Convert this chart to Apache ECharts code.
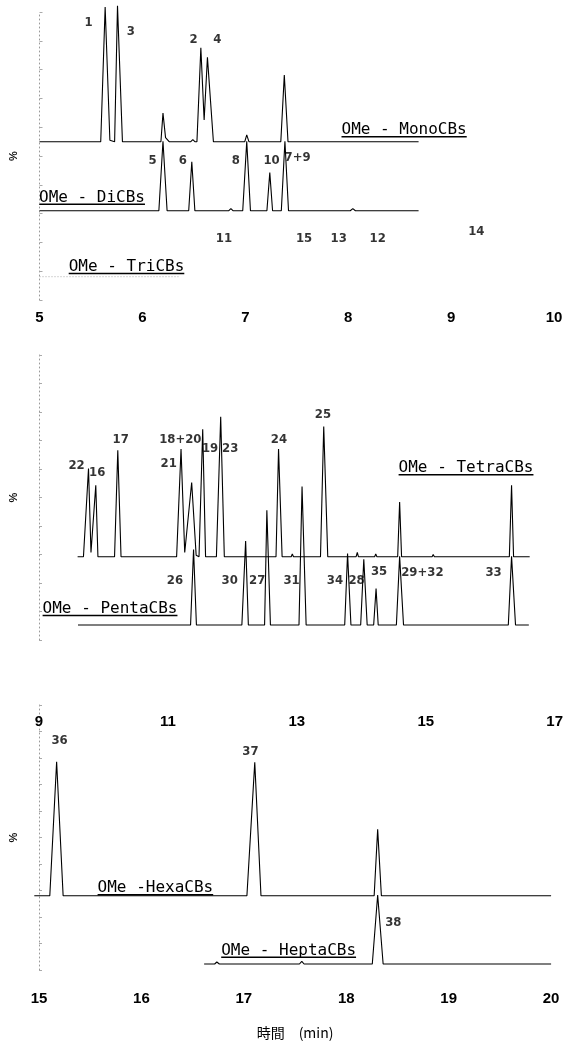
<!DOCTYPE html>
<html><head><meta charset="utf-8">
<script src="https://cdn.jsdelivr.net/npm/echarts@6/dist/echarts.min.js"></script>
<style>html,body{margin:0;padding:0;background:#fff}#c{width:566px;height:1043px}</style>
</head><body><div id="c"></div>
<script>
// ================= DATA (time in min, signal in %) =================
// Panel 1 : 5 - 10 min
const panel1Range = [5, 10];
const panel1Interval = 1;
const monoTrace = [[5.00,0],[5.595,0],[5.638,99],[5.684,1],[5.73,0],[5.758,100],[5.806,0],
  [6.18,0],[6.20,21],[6.225,3],[6.26,0],[6.47,0],[6.49,1.5],[6.51,0],
  [6.53,0],[6.568,69],[6.60,16],[6.632,62],[6.69,0],[6.995,0],[7.014,5],[7.035,0],
  [7.345,0],[7.379,49],[7.415,0],[8.684,0]];
const diTrace = [[5.00,0],[6.16,0],[6.20,51],[6.24,0],[6.45,0],[6.48,36],[6.51,0],
  [6.84,0],[6.86,1.5],[6.88,0],[6.975,0],[7.014,51],[7.05,0],[7.21,0],[7.238,28],[7.265,0],
  [7.35,0],[7.385,51],[7.42,0],[8.02,0],[8.045,1.5],[8.07,0],[8.684,0]];
const triTrace = [[5.00,0],[6.35,0]];
const monoLabels = [['1',5.477,87.5],['3',5.887,80.9],['2',6.498,75],['4',6.729,75]];
const diLabels = [['5',6.098,36.9],['6',6.393,36.9],['8',6.908,36.9],['10',7.255,36.9],['7+9',7.508,38.7]];
const triLabels = [['11',6.793,27.9],['15',7.571,27.9],['13',7.908,27.9],['12',8.287,27.9],['14',9.245,33.1]];

// Panel 2 : 9 - 17 min
const panel2Range = [9, 17];
const panel2Interval = 2;
const tetraTrace = [[9.65,0],[9.74,0],[9.818,63],[9.856,3],[9.93,51],[9.963,0],
  [10.219,0],[10.269,76],[10.319,0],[11.175,0],[11.243,77],[11.30,3],[11.407,53],[11.476,1],
  [11.52,0],[11.577,91],[11.621,0],[11.788,0],[11.854,100],[11.91,0],
  [12.706,0],[12.745,77],[12.80,0],[12.94,0],[12.957,2],[12.975,0],
  [13.391,0],[13.441,93],[13.503,0],[13.94,0],[13.958,3],[13.975,0],
  [14.225,0],[14.242,2],[14.26,0],[14.58,0],[14.61,39],[14.64,0],
  [15.11,0],[15.127,1.5],[15.145,0],[16.30,0],[16.334,51],[16.365,0],[16.613,0]];
const pentaTrace = [[9.656,0],[11.39,0],[11.436,54],[11.48,0],[12.18,0],[12.238,60],[12.28,0],
  [12.53,0],[12.565,82],[12.62,0],[13.06,0],[13.107,99],[13.17,0],
  [13.764,0],[13.808,51],[13.86,0],[14.01,0],[14.058,47],[14.11,0],
  [14.21,0],[14.247,26],[14.28,0],[14.56,0],[14.61,49],[14.67,0],
  [16.284,0],[16.334,49],[16.395,0],[16.60,0]];
const tetraLabels = [['22',9.634,65.3],['16',9.952,59.9],['17',10.314,83.7],['18+20',11.232,83.7],
  ['21',11.053,66.4],['19',11.69,77.4],['23',12.0,77.4],['24',12.751,83.7],['25',13.429,101.6]];
const pentaLabels = [['26',11.149,31.8],['30',11.993,31.8],['27',12.417,31.8],['31',12.945,31.8],
  ['34',13.613,31.8],['28',13.947,31.8],['35',14.293,38.3],['29+32',14.96,37.1],['33',16.057,37.1]];

// Panel 3 : 15 - 20 min
const panel3Range = [15, 20];
const panel3Interval = 1;
const hexaTrace = [[15.0,0],[15.150,0],[15.216,100],[15.279,0],[17.057,0],[17.133,99.5],[17.193,0],
  [18.288,0],[18.322,49.5],[18.358,0],[20.0,0]];
const heptaTrace = [[16.643,0],[16.745,0],[16.766,1.5],[16.79,0],[17.565,0],[17.588,2],[17.61,0],
  [18.27,0],[18.322,51.5],[18.375,0],[20.0,0]];
const hexaLabels = [['36',15.245,115.6],['37',17.091,107.5]];
const heptaLabels = [['38',18.473,31]];

const traceNames = ['OMe - MonoCBs','OMe - DiCBs','OMe - TriCBs','OMe - TetraCBs','OMe - PentaCBs','OMe -HexaCBs','OMe - HeptaCBs'];
const yName = '%';
const xName = '時間　(min)';

// ================= LAYOUT =================
const P = [
  {left:39.5, right:12, range:panel1Range, interval:panel1Interval, axTop:12, axBottom:300, labelY:318.3, scale:1.36,
   traces:[{data:monoTrace, base:141.7, labels:monoLabels},{data:diTrace, base:210.7, labels:diLabels},{data:triTrace, base:276.7, labels:triLabels, faint:true}]},
  {left:35.4, right:11.2, range:panel2Range, interval:panel2Interval, axTop:355, axBottom:640, labelY:721.7, scale:1.40,
   traces:[{data:tetraTrace, base:556.7, labels:tetraLabels},{data:pentaTrace, base:625, labels:pentaLabels}]},
  {left:34.3, right:14.9, range:panel3Range, interval:panel3Interval, axTop:705, axBottom:970, labelY:999.3, scale:1.34, name:xName,
   traces:[{data:hexaTrace, base:895.7, labels:hexaLabels},{data:heptaTrace, base:964, labels:heptaLabels}]}
];
const namePos = [[341.5,130],[39,197.5],[68.7,266.7],[398.6,468],[42.6,608.7],[97.6,888],[221.2,950.5]];

const grid = [], xAxis = [], yAxis = [], series = [];
const numFont = '"Liberation Sans Narrow","DejaVu Sans Condensed","Liberation Sans",sans-serif';
P.forEach(p => {
  const gi = grid.length;
  grid.push({left:p.left, right:p.right, top:p.axTop, height:p.axBottom - p.axTop});
  xAxis.push({type:'value', gridIndex:gi, min:p.range[0], max:p.range[1], interval:p.interval,
    axisLine:{show:false}, axisTick:{show:false}, splitLine:{show:false},
    axisLabel:{show:true, margin:p.labelY - p.axBottom - 7.5, color:'#000', fontSize:15, fontWeight:'bold', fontFamily:'"Liberation Sans",Arial,sans-serif'},
    name:p.name || '', nameLocation:'middle', nameGap:56,
    nameTextStyle:{fontFamily:'"Noto Sans CJK JP",sans-serif', fontSize:14, color:'#000'}});
  yAxis.push({type:'value', gridIndex:gi, min:0, max:100, splitNumber:8,
    axisLine:{show:true, lineStyle:{color:'#999', type:[1,3], width:1}},
    axisTick:{show:true, inside:true, length:3, lineStyle:{color:'#aaa'}},
    axisLabel:{show:false}, splitLine:{show:false},
    name:yName, nameLocation:'middle', nameGap:20, nameRotate:90,
    nameTextStyle:{fontSize:11, fontWeight:'bold', color:'#111'}});
  p.traces.forEach(t => {
    const ti = grid.length;
    const h = 100 * p.scale;
    grid.push({left:p.left, right:p.right, top:t.base - h, height:h});
    xAxis.push({type:'value', gridIndex:ti, min:p.range[0], max:p.range[1], show:false});
    yAxis.push({type:'value', gridIndex:ti, min:0, max:100, show:false});
    series.push({type:'line', xAxisIndex:ti, yAxisIndex:ti, data:t.data, symbol:'none', clip:false, silent:true,
      lineStyle: t.faint ? {color:'#aaa', width:1, type:[1,2]} : {color:'#000', width:1.1}});
    series.push({type:'scatter', xAxisIndex:ti, yAxisIndex:ti, symbolSize:1, clip:false, silent:true,
      itemStyle:{color:'transparent'},
      data:t.labels.map(l => ({value:[l[1], l[2]], name:l[0]})),
      label:{show:true, position:'inside', formatter:q => q.name, color:'#000', fontSize:13, fontWeight:'bold', fontFamily:numFont}});
  });
});

const monoFont = '16px "DejaVu Sans Mono", monospace';
const ctx = document.createElement('canvas').getContext('2d');
ctx.font = monoFont;
const graphic = traceNames.map((n, i) => {
  const w = ctx.measureText(n).width;
  return {type:'group', x:namePos[i][0], y:namePos[i][1], silent:true, children:[
    {type:'text', style:{text:n, font:monoFont, fill:'#000', verticalAlign:'middle', align:'left'}},
    {type:'rect', shape:{x:0, y:6, width:w, height:1.6}, style:{fill:'#000'}}
  ]};
});

const chart = echarts.init(document.getElementById('c'), null, {renderer:'canvas'});
chart.setOption({animation:false, backgroundColor:'#fff', grid, xAxis, yAxis, series, graphic});
</script></body></html>
